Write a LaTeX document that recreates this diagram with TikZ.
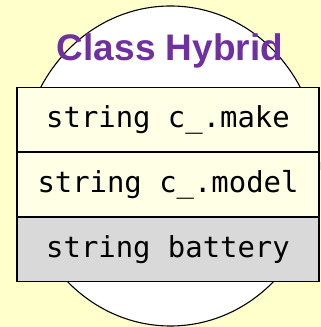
\documentclass[tikz,border=0pt]{standalone}
\usepackage{fontspec}
\setmainfont{Liberation Sans}
\setmonofont{DejaVu Sans Mono}
\usetikzlibrary{positioning}
\definecolor{bgyellow}{HTML}{FFFFCC}
\definecolor{rowyellow}{HTML}{FFFFE6}
\definecolor{rowgray}{HTML}{D9D9D9}
\definecolor{titlepurple}{HTML}{7030A0}
\tikzset{every path/.style={line width=1.1pt}, member/.style={draw=black, line width=1.1pt, minimum width=302pt, minimum height=64pt, inner sep=0pt, font=\fontsize{28.9pt}{30pt}\selectfont\ttfamily}}

\begin{document}
\begin{tikzpicture}[x=1pt,y=1pt]
       \fill[bgyellow] (0,0) rectangle (321,327);
       \useasboundingbox (0,0) rectangle (321,327);
       \draw[black,fill=white] (170.5,161) ellipse (149 and 160);
       \node[anchor=base, text=titlepurple, font=\fontsize{37pt}{40pt}\selectfont\bfseries] (title) at (170,266) {Class Hybrid};
       \node[member, fill=rowyellow, anchor=north] (make) at (168,240) {string c\_.make};
       \node[member, fill=rowyellow, below=0pt of make] (model) {string c\_.model};
       \node[member, fill=rowgray, below=0pt of model] (battery) {string battery};
      \end{tikzpicture}
\end{document}
